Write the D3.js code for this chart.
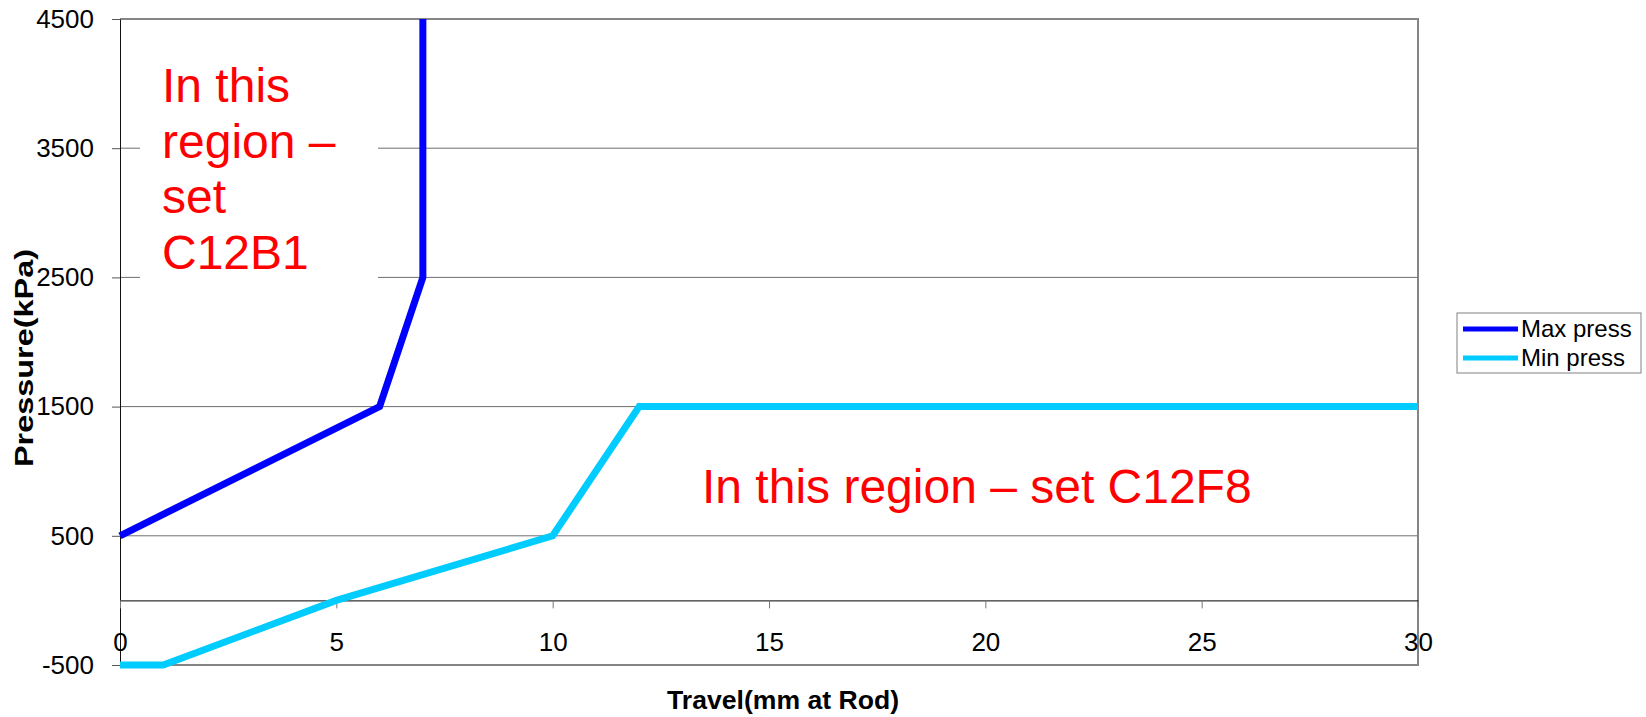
<html>
<head>
    <meta charset="utf-8">
    <script src="https://d3js.org/d3.v7.min.js"></script>
    <style>
        body { margin: 0; background: white; }
        text { font-family: "Liberation Sans", Arial, sans-serif; }
    </style>
</head>
<body>
    <svg id="chart" width="1646" height="717"></svg>
    <script>
        // values
        const maxTravel = [0, 6, 7, 7];
        const maxPress = [500, 1500, 2500, 4500];
        const minTravel = [0, 1, 5, 10, 12, 30];
        const minPress = [-500, -500, 0, 500, 1500, 1500];
        const xTicks = [0, 5, 10, 15, 20, 25, 30];
        const yTicks = [-500, 500, 1500, 2500, 3500, 4500];
        const seriesNames = ["Max press", "Min press"];
        const seriesColors = ["#0000ff", "#00ccff"];
        const noteLeft = ["In this", "region \u2013", "set", "C12B1"];
        const noteRight = "In this region \u2013 set C12F8";

        let svg = d3.select("svg#chart");

        //plot area bounds
        const plotLeft = 120, plotRight = 1418, plotTop = 19, plotBottom = 665;

        let xScale = d3.scaleLinear()
            .domain([0, 30])
            .range([plotLeft, plotRight]);

        let yScale = d3.scaleLinear()
            .domain([-500, 4500])
            .range([plotBottom, plotTop]);

        //horizontal gridlines (not the top one, that is the border)
        svg.append("g").selectAll("line")
            .data(yTicks.filter(d => d > -500 && d < 4500))
            .join("line")
            .attr("x1", plotLeft)
            .attr("x2", plotRight)
            .attr("y1", d => yScale(d))
            .attr("y2", d => yScale(d))
            .style("stroke", "#6e6e6e")
            .style("stroke-width", 1);

        //white box behind the left note, it hides the gridlines
        svg.append("rect")
            .attr("x", 140)
            .attr("y", 40)
            .attr("width", 238)
            .attr("height", 255)
            .style("fill", "white");

        //border: top, right, bottom grey
        svg.append("path")
            .attr("d", "M" + plotLeft + "," + plotTop + "H" + plotRight + "V" + plotBottom + "H" + plotLeft)
            .style("fill", "none")
            .style("stroke", "#858585")
            .style("stroke-width", 2);

        //y axis
        let leftAxis = d3.axisLeft(yScale)
            .tickValues(yTicks)
            .tickFormat(d => String(d))
            .tickSize(8)
            .tickPadding(18)
            .tickSizeOuter(0);
        let gy = svg.append("g")
            .attr("transform", "translate(" + plotLeft + ",0)")
            .call(leftAxis);
        gy.select(".domain").style("stroke", "#111");
        gy.selectAll(".tick line").style("stroke", "#555");
        gy.selectAll(".tick text")
            .style("font-size", "26px")
            .style("fill", "black")
            .style("font-family", "'Liberation Sans', Arial, sans-serif");

        //x axis sits on the zero line
        let bottomAxis = d3.axisBottom(xScale)
            .tickValues(xTicks)
            .tickFormat(d => String(d))
            .tickSize(8)
            .tickPadding(24)
            .tickSizeOuter(0);
        let gx = svg.append("g")
            .attr("transform", "translate(0," + yScale(0) + ")")
            .call(bottomAxis);
        gx.select(".domain").style("stroke", "black");
        gx.selectAll(".tick line").style("stroke", "#777");
        gx.selectAll(".tick text")
            .style("font-size", "26px")
            .style("fill", "black")
            .style("font-family", "'Liberation Sans', Arial, sans-serif");

        //clip lines to the plot
        svg.append("clipPath").attr("id", "plotclip")
            .append("rect")
            .attr("x", plotLeft - 5)
            .attr("y", plotTop)
            .attr("width", plotRight - plotLeft + 5)
            .attr("height", plotBottom - plotTop + 5);

        let line = d3.line()
            .x(d => xScale(d[0]))
            .y(d => yScale(d[1]));

        const series = [
            d3.zip(maxTravel, maxPress),
            d3.zip(minTravel, minPress)
        ];

        series.forEach((s, i) => {
            svg.append("path")
                .datum(s)
                .attr("d", line)
                .attr("clip-path", "url(#plotclip)")
                .style("fill", "none")
                .style("stroke", seriesColors[i])
                .style("stroke-width", 7)
                .style("stroke-linejoin", "miter");
        });

        //notes
        noteLeft.forEach((t, i) => {
            svg.append("text")
                .attr("x", 162)
                .attr("y", 102 + i * 55.5)
                .style("font-size", "48px")
                .style("fill", "red")
                .text(t);
        });
        svg.append("text")
            .attr("x", 702)
            .attr("y", 503)
            .style("font-size", "48px")
            .style("fill", "red")
            .text(noteRight);

        //axis titles
        svg.append("text")
            .attr("x", 783)
            .attr("y", 709)
            .attr("text-anchor", "middle")
            .attr("textLength", 232)
            .attr("lengthAdjust", "spacingAndGlyphs")
            .style("font-size", "26px")
            .style("font-weight", "bold")
            .text("Travel(mm at Rod)");

        svg.append("text")
            .attr("transform", "translate(33,358) rotate(-90)")
            .attr("text-anchor", "middle")
            .attr("textLength", 218)
            .attr("lengthAdjust", "spacingAndGlyphs")
            .style("font-size", "26px")
            .style("font-weight", "bold")
            .text("Pressure(kPa)");

        //legend
        let legend = svg.append("g");
        legend.append("rect")
            .attr("x", 1457)
            .attr("y", 313)
            .attr("width", 184)
            .attr("height", 60)
            .style("fill", "white")
            .style("stroke", "#808080")
            .style("stroke-width", 1);
        seriesNames.forEach((name, i) => {
            legend.append("line")
                .attr("x1", 1463)
                .attr("x2", 1518)
                .attr("y1", 329 + i * 29)
                .attr("y2", 329 + i * 29)
                .style("stroke", seriesColors[i])
                .style("stroke-width", 5);
            legend.append("text")
                .attr("x", 1521)
                .attr("y", 337 + i * 29)
                .style("font-size", "24px")
                .text(name);
        });
    </script>
</body>
</html>
